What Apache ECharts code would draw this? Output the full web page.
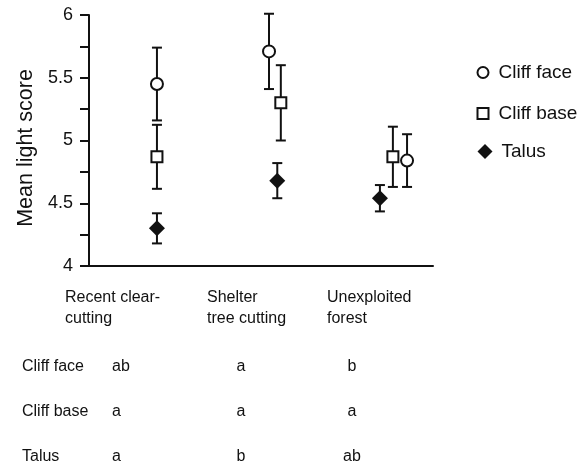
<!DOCTYPE html>
<html>
<head>
<meta charset="utf-8">
<script src="https://cdn.jsdelivr.net/npm/echarts@6/dist/echarts.min.js"></script>
<style>
  html, body { margin: 0; padding: 0; background: #fff; }
  #chart { width: 587px; height: 465px; }
</style>
</head>
<body>
<div id="chart"></div>
<script>
// Harvest treatments (x groups)
const categories = ['Recent clear-\ncutting', 'Shelter\ntree cutting', 'Unexploited\nforest'];

// Mean light score per microhabitat, with error bar half-widths
const cliffFaceMean = [5.45, 5.71, 4.84];
const cliffFaceErr  = [0.29, 0.30, 0.21];
const cliffBaseMean = [4.87, 5.30, 4.87];
const cliffBaseErr  = [0.255, 0.30, 0.24];
const talusMean     = [4.30, 4.68, 4.54];
const talusErr      = [0.12, 0.14, 0.105];

// Horizontal dodge within each group so overlapping points stay visible
const cliffFaceDodge = [0, -0.05, 0.12];
const cliffBaseDodge = [0, 0.05, 0];
const talusDodge     = [0, 0.02, -0.11];

// Significance letters shown beneath the plot
const rowNames     = ['Cliff face', 'Cliff base', 'Talus'];
const sigCliffFace = ['ab', 'a', 'b'];
const sigCliffBase = ['a', 'a', 'a'];
const sigTalus     = ['a', 'b', 'ab'];

// Y axis ticks
const yMin = 4, yMax = 6, yStep = 0.25;
const yTitle = 'Mean light score';

const FONT = '"Liberation Sans", Arial, Helvetica, sans-serif';

function points(mean, dodge) {
  return mean.map((v, i) => [i + 1 + dodge[i], v]);
}
function bars(mean, err, dodge) {
  return mean.map((v, i) => [i + 1 + dodge[i], v - err[i], v + err[i]]);
}

function errorBarSeries(name, data) {
  return {
    name: name,
    type: 'custom',
    data: data,
    clip: false,
    z: 2,
    silent: true,
    renderItem: function (params, api) {
      const x = api.value(0);
      const lo = api.coord([x, api.value(1)]);
      const hi = api.coord([x, api.value(2)]);
      const w = 5;
      const style = { stroke: '#111', lineWidth: 2 };
      return {
        type: 'group',
        children: [
          { type: 'line', shape: { x1: lo[0], y1: lo[1], x2: hi[0], y2: hi[1] }, style: style },
          { type: 'line', shape: { x1: lo[0] - w, y1: lo[1], x2: lo[0] + w, y2: lo[1] }, style: style },
          { type: 'line', shape: { x1: hi[0] - w, y1: hi[1], x2: hi[0] + w, y2: hi[1] }, style: style }
        ]
      };
    }
  };
}

// Texts around the plot: axis title, group names and the significance table
const graphic = [{
  type: 'text', x: 26, y: 148, rotation: Math.PI / 2,
  style: { text: yTitle, font: '21.5px ' + FONT, fill: '#111', textAlign: 'center', textVerticalAlign: 'middle' }
}];
const catX = [65, 207, 327];
categories.forEach((c, i) => {
  graphic.push({
    type: 'text', left: catX[i], top: 287,
    style: { text: c, font: '16px ' + FONT, fill: '#111', lineHeight: 21 }
  });
});
const rowY = [367, 412, 457];
const sigRows = [sigCliffFace, sigCliffBase, sigTalus];
const colX = [112, 241, 352];
const colAlign = ['left', 'center', 'center'];
rowNames.forEach((r, j) => {
  graphic.push({
    type: 'text', x: 22, y: rowY[j],
    style: { text: r, font: '16px ' + FONT, fill: '#111', textVerticalAlign: 'middle' }
  });
  sigRows[j].forEach((s, i) => {
    graphic.push({
      type: 'text', x: colX[i], y: rowY[j],
      style: { text: s, font: '16px ' + FONT, fill: '#111', textAlign: colAlign[i], textVerticalAlign: 'middle' }
    });
  });
});

const legendText = { fontFamily: FONT, fontSize: 19, color: '#111' };

const chart = echarts.init(document.getElementById('chart'), null, { renderer: 'canvas' });
chart.setOption({
  animation: false,
  backgroundColor: '#fff',
  grid: { left: 89, right: 154, top: 15, bottom: 199 },
  xAxis: {
    type: 'value',
    min: 0.424, max: 3.34,
    axisLine: { show: true, onZero: false, lineStyle: { color: '#111', width: 2 } },
    axisTick: { show: false },
    axisLabel: { show: false },
    splitLine: { show: false }
  },
  yAxis: {
    type: 'value',
    min: yMin, max: yMax, interval: yStep,
    axisLine: { show: true, onZero: false, lineStyle: { color: '#111', width: 2 } },
    axisTick: { show: true, length: 9, lineStyle: { color: '#111', width: 2 } },
    axisLabel: {
      margin: 16, fontFamily: FONT, fontSize: 18, color: '#111',
      formatter: v => (Math.abs(v * 2 - Math.round(v * 2)) < 1e-6 ? String(v) : '')
    },
    splitLine: { show: false }
  },
  legend: [
    {
      orient: 'vertical',
      left: 471.5, top: 58,
      itemGap: 22,
      itemWidth: 11, itemHeight: 11,
      textStyle: Object.assign({ padding: [0, 0, 0, 5] }, legendText),
      data: [
        { name: 'Cliff face', icon: 'circle', itemStyle: { color: '#fff', borderColor: '#111', borderWidth: 2 } },
        { name: 'Cliff base', icon: 'rect', itemStyle: { color: '#fff', borderColor: '#111', borderWidth: 2 } }
      ]
    },
    {
      orient: 'vertical',
      left: 472.5, top: 137,
      itemWidth: 15, itemHeight: 15,
      textStyle: Object.assign({ padding: [0, 0, 0, 4] }, legendText),
      data: [
        { name: 'Talus', icon: 'diamond', itemStyle: { color: '#111', borderWidth: 0 } }
      ]
    }
  ],
  graphic: graphic,
  series: [
    errorBarSeries('Cliff face error', bars(cliffFaceMean, cliffFaceErr, cliffFaceDodge)),
    errorBarSeries('Cliff base error', bars(cliffBaseMean, cliffBaseErr, cliffBaseDodge)),
    errorBarSeries('Talus error', bars(talusMean, talusErr, talusDodge)),
    {
      name: 'Cliff face', type: 'scatter', z: 5, clip: false,
      symbol: 'circle', symbolSize: 12,
      itemStyle: { color: '#fff', borderColor: '#111', borderWidth: 2, opacity: 1 },
      data: points(cliffFaceMean, cliffFaceDodge)
    },
    {
      name: 'Cliff base', type: 'scatter', z: 5, clip: false,
      symbol: 'rect', symbolSize: 11,
      itemStyle: { color: '#fff', borderColor: '#111', borderWidth: 2, opacity: 1 },
      data: points(cliffBaseMean, cliffBaseDodge)
    },
    {
      name: 'Talus', type: 'scatter', z: 5, clip: false,
      symbol: 'diamond', symbolSize: 16,
      itemStyle: { color: '#111', opacity: 1 },
      data: points(talusMean, talusDodge)
    }
  ]
});
</script>
</body>
</html>
